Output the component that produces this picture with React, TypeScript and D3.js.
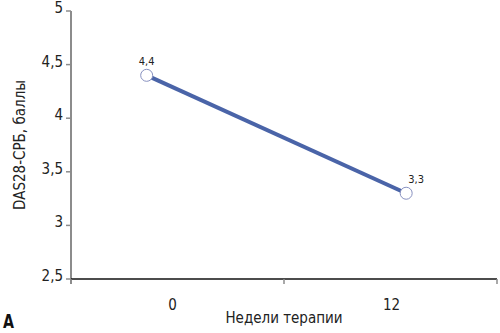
import React from "react";
import * as d3 from "d3";

const categories = ["0", "12"];
const weeks = [0, 12];
const values = [4.4, 3.3];
const valueLabels = ["4,4", "3,3"];
const yTicks = [2.5, 3, 3.5, 4, 4.5, 5];

const W = 500, H = 333;
const FONT = "'Liberation Sans Narrow', 'DejaVu Sans Condensed', 'Roboto Condensed', Arial, sans-serif";

export default function App() {
  const left = 71, right = 497, top = 11, bottom = 279;
  const y = d3.scaleLinear().domain([2.5, 5]).range([bottom, top]);
  const xb = d3.scaleBand<string>().domain(categories).range([left, right]);
  const x = d3.scaleLinear().domain([-3.5, 16.2]).range([left, right]);
  const line = d3.line<number>().x((_, i) => x(weeks[i])).y((d) => y(d));
  const fmt = (v: number) => String(v).replace(".", ",");
  const boundaries = [left, ...categories.map((c) => (xb(c) as number) + xb.bandwidth())];

  return (
    <svg width={W} height={H} style={{ position: "absolute", left: 0, top: 0, background: "#fff" }}>
      {/* y axis */}
      <line x1={left} x2={left} y1={top} y2={bottom + 5} stroke="#8c8c8c" strokeWidth={2} />
      {yTicks.map((t) => (
        <g key={t}>
          <line x1={left - 5} x2={left} y1={y(t)} y2={y(t)} stroke="#8c8c8c" strokeWidth={1.5} />
          <text x={left - 8} y={y(t) + 2} textAnchor="end" fontSize={15} fontFamily={FONT} fill="#222">
            {fmt(t)}
          </text>
        </g>
      ))}
      {/* x axis */}
      <line x1={left} x2={right} y1={bottom} y2={bottom} stroke="#111" strokeWidth={1.5} />
      {boundaries.map((b, i) => (
        <line key={i} x1={b} x2={b} y1={bottom} y2={bottom + 5} stroke="#8c8c8c" strokeWidth={1.5} />
      ))}
      {categories.map((c, i) => (
        <text key={c} x={(xb(c) as number) + xb.bandwidth() / 2 + (i === 0 ? -5 : 1)} y={bottom + 31} textAnchor="middle" fontSize={15} fontFamily={FONT} fill="#222">
          {c}
        </text>
      ))}
      <text x={(left + right) / 2} y={bottom + 44} textAnchor="middle" fontSize={15} fontFamily={FONT} fill="#222">
        Недели терапии
      </text>
      <text transform={`translate(25, ${(top + bottom) / 2}) rotate(-90)`} textAnchor="middle" fontSize={15} fontFamily={FONT} fill="#222">
        DAS28-CPБ, баллы
      </text>
      {/* series */}
      <path d={line(values) || ""} fill="none" stroke="#4a64a8" strokeWidth={4} />
      {values.map((v, i) => (
        <g key={i}>
          <circle cx={x(weeks[i])} cy={y(v)} r={6} fill="#fff" stroke="#8891c0" strokeWidth={1} />
          <text x={x(weeks[i]) + (i === 0 ? 0 : 10)} y={y(v) - 10} textAnchor="middle" fontSize={11} fontFamily={FONT} fill="#222">
            {valueLabels[i]}
          </text>
        </g>
      ))}
      <text x={3} y={328} fontSize={20} fontWeight="bold" fontFamily={FONT} fill="#111" textLength={11} lengthAdjust="spacingAndGlyphs">A</text>
    </svg>
  );
}
